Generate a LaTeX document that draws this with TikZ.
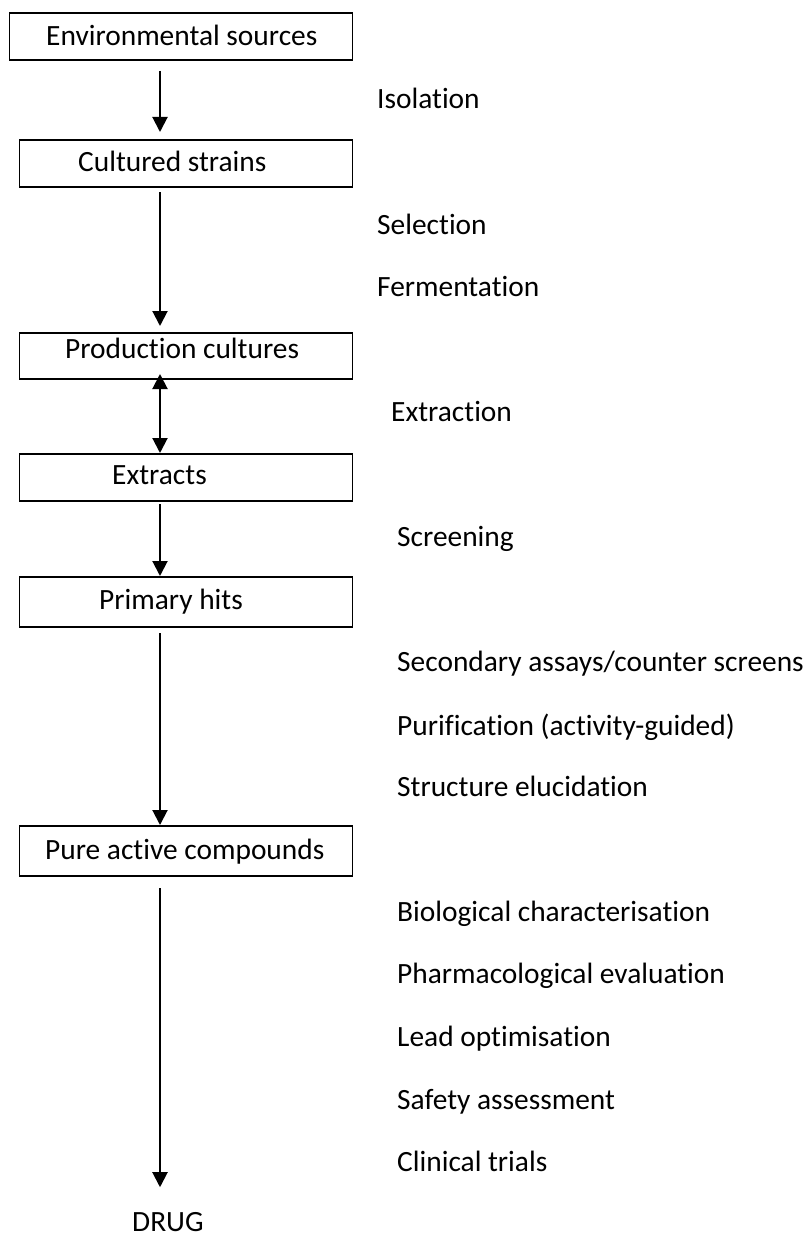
\documentclass[tikz,border=0pt]{standalone}
\usepackage{fontspec}
\setmainfont[Ligatures=NoCommon,RawFeature=-liga]{Carlito}
\usetikzlibrary{arrows.meta}
\begin{document}
\begin{tikzpicture}[x=1pt,y=-1pt,
  box/.style={draw,line width=1.2pt,minimum width=333pt,minimum height=47pt,inner sep=0pt,outer sep=0pt},
  lbl/.style={anchor=base west,inner sep=0pt,font=\fontsize{29.4}{35}\selectfont},
  arr/.style={line width=2pt,-{Triangle[length=15pt,width=15pt]}},
  dblarr/.style={line width=2pt,{Triangle[length=15pt,width=15pt]}-{Triangle[length=15pt,width=15pt]}}]
\useasboundingbox (0,0) rectangle (809,1236);
% boxes
\node[box,minimum width=343pt] (b1) at (180.7,36.5) {};
\node[box] (b2) at (185.7,163.5) {};
\node[box,minimum height=46pt] (b3) at (185.7,356) {};
\node[box] (b4) at (185.7,477.5) {};
\node[box,minimum height=50pt] (b5) at (185.7,602) {};
\node[box,minimum height=50pt] (b6) at (185.7,851) {};
% box texts
\node[lbl] (t1) at (46,46) {Environmental sources};
\node[lbl] (t2) at (78,171.7) {Cultured strains};
\node[lbl] (t3) at (65,358.3) {Production cultures};
\node[lbl] (t4) at (112,484) {Extracts};
\node[lbl] (t5) at (99,609.3) {Primary hits};
\node[lbl] (t6) at (45,859.3) {Pure active compounds};
\node[lbl] (drug) at (132,1231.5) {DRUG};
% axis
\coordinate (ax) at (160,0);
% arrows
\draw[arr,shorten <=11pt,shorten >=8pt] (b1.south -| ax) -- (b2.north -| ax);
\draw[arr,shorten <=5pt,shorten >=7pt] (b2.south -| ax) -- (b3.north -| ax);
\draw[dblarr,shorten <=-5pt,shorten >=1pt] (b3.south -| ax) -- (b4.north -| ax);
\draw[arr,shorten <=3pt,shorten >=1pt] (b4.south -| ax) -- (b5.north -| ax);
\draw[arr,shorten <=6pt,shorten >=1pt] (b5.south -| ax) -- (b6.north -| ax);
\draw[arr,shorten <=12pt,shorten >=25pt] (b6.south -| ax) -- (drug.north -| ax);
% step labels
\node[lbl] (s1) at (377,108.3) {Isolation};
\node[lbl] (s2) at (377,234) {Selection};
\node[lbl] (s3) at (377,296) {Fermentation};
\node[lbl] (s4) at (391,421.7) {Extraction};
\node[lbl] (s5) at (397,546.7) {Screening};
\node[lbl] (s6) at (397,671.7) {Secondary assays/counter screens};
\node[lbl] (s7) at (397,735) {Purification (activity-guided)};
\node[lbl] (s8) at (397,796.7) {Structure elucidation};
\node[lbl] (s9) at (397,921.7) {Biological characterisation};
\node[lbl] (s10) at (397,983) {Pharmacological evaluation};
\node[lbl] (s11) at (397,1046) {Lead optimisation};
\node[lbl] (s12) at (397,1109) {Safety assessment};
\node[lbl] (s13) at (397,1171) {Clinical trials};
\end{tikzpicture}
\end{document}
